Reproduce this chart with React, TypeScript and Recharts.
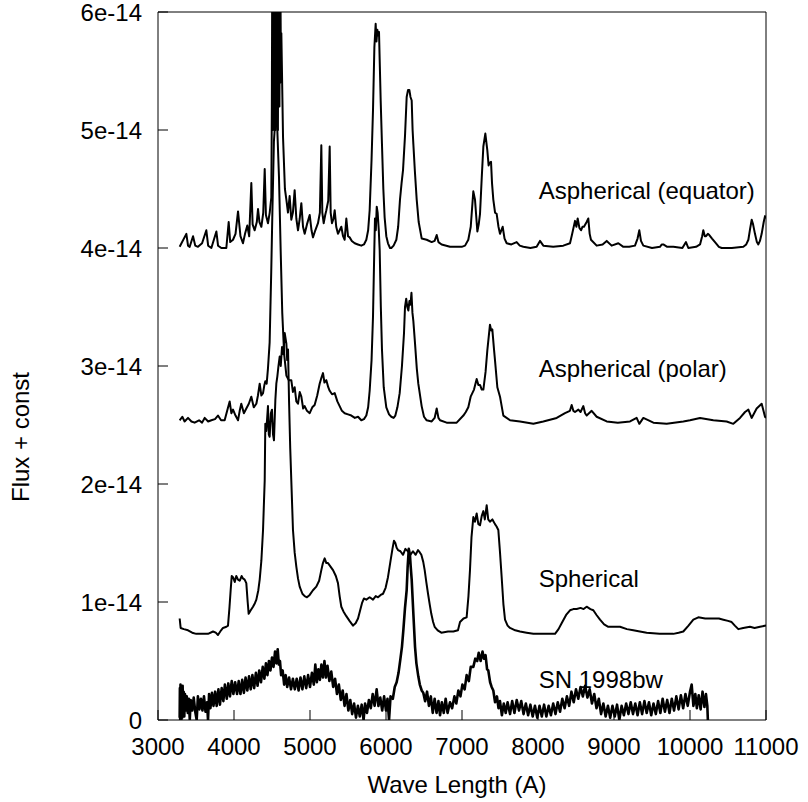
import { Line, LineChart, XAxis, YAxis } from "recharts";

// wavelength (A), flux in units of 1e-14
const equator: [number, number][] = [
  [3285, 4.01], [3373, 4.12], [3395, 4.02], [3417, 4.01], [3461, 4.1], [3490, 4.02], [3526, 4.01], [3580, 4.04],
  [3636, 4.15], [3660, 4.02], [3702, 4.0], [3768, 4.14], [3790, 4.02], [3833, 4.0], [3899, 4.0], [3930, 4.22],
  [3950, 4.05], [3987, 4.07], [4020, 4.12], [4053, 4.31], [4085, 4.1], [4118, 4.04], [4145, 4.12], [4175, 4.19],
  [4200, 4.1], [4228, 4.55], [4245, 4.2], [4272, 4.15], [4300, 4.22], [4316, 4.33], [4335, 4.22], [4360, 4.18],
  [4385, 4.3], [4404, 4.67], [4420, 4.28], [4447, 4.21], [4470, 4.3], [4491, 4.43], [4498, 5.2], [4503, 6.3],
  [4508, 5.0], [4513, 6.3], [4518, 5.1], [4523, 6.3], [4528, 5.0], [4533, 6.3], [4538, 5.2], [4543, 6.3],
  [4548, 5.0], [4553, 6.3], [4558, 5.1], [4563, 6.3], [4568, 5.2], [4573, 6.3], [4578, 5.0], [4583, 6.3],
  [4588, 5.3], [4593, 6.3], [4598, 5.2], [4603, 6.2], [4608, 5.4], [4613, 6.0], [4618, 5.5], [4623, 5.82],
  [4645, 4.94], [4670, 4.5], [4689, 4.41], [4710, 4.3],
  [4732, 4.44], [4754, 4.24], [4775, 4.3], [4798, 4.49], [4820, 4.25], [4842, 4.15], [4865, 4.25], [4886, 4.38],
  [4908, 4.18], [4930, 4.12], [4960, 4.2], [4996, 4.28], [5020, 4.15], [5039, 4.09], [5070, 4.15], [5105, 4.21],
  [5130, 4.3], [5149, 4.87], [5162, 4.3], [5180, 4.21], [5200, 4.28], [5215, 4.32], [5240, 4.4], [5259, 4.86],
  [5272, 4.3], [5289, 4.21], [5310, 4.25], [5325, 4.32], [5345, 4.18], [5368, 4.12], [5390, 4.15], [5412, 4.18],
  [5435, 4.1], [5456, 4.07], [5478, 4.25], [5500, 4.1], [5522, 4.09], [5550, 4.06], [5588, 4.04], [5630, 4.03],
  [5675, 4.02], [5710, 4.03], [5741, 4.07], [5765, 4.15], [5785, 4.32], [5810, 4.75], [5829, 5.17], [5847, 5.7],
  [5864, 5.9], [5875, 5.75], [5886, 5.85], [5900, 5.8], [5908, 5.83], [5917, 5.59], [5930, 5.25], [5947, 4.88],
  [5965, 4.5], [5982, 4.26], [6004, 4.1], [6026, 4.04], [6053, 4.0], [6070, 4.0], [6100, 4.02], [6136, 4.07],
  [6160, 4.18], [6184, 4.41], [6205, 4.55], [6224, 4.66], [6250, 4.95], [6272, 5.28], [6290, 5.34], [6307, 5.34],
  [6322, 5.28], [6338, 5.25], [6350, 5.0], [6360, 4.88], [6380, 4.65], [6404, 4.41], [6430, 4.22], [6470, 4.08],
  [6535, 4.07], [6601, 4.05], [6640, 4.06], [6667, 4.11], [6690, 4.05], [6732, 4.03], [6842, 4.01], [6950, 4.01],
  [6996, 4.01], [7040, 4.02], [7083, 4.07], [7115, 4.18], [7149, 4.48], [7171, 4.41], [7202, 4.14], [7220, 4.2],
  [7237, 4.29], [7260, 4.6], [7281, 4.86], [7307, 4.97], [7333, 4.83], [7350, 4.7], [7360, 4.72], [7382, 4.73],
  [7395, 4.55], [7412, 4.41], [7435, 4.3], [7456, 4.29], [7480, 4.18], [7500, 4.12], [7535, 4.18], [7560, 4.08],
  [7588, 4.04], [7650, 4.03], [7719, 4.05], [7760, 4.02], [7807, 4.01], [7900, 4.0], [7982, 4.01], [8026, 4.06],
  [8070, 4.02], [8200, 4.01], [8333, 4.02], [8421, 4.04], [8450, 4.12], [8487, 4.23], [8505, 4.18], [8522, 4.25],
  [8545, 4.17], [8566, 4.15], [8585, 4.18], [8605, 4.18], [8640, 4.22], [8662, 4.25], [8680, 4.12], [8697, 4.07],
  [8772, 4.02], [8850, 4.03], [8904, 4.06], [8969, 4.02], [9057, 4.04], [9123, 4.01], [9200, 4.01], [9276, 4.02],
  [9310, 4.08], [9333, 4.15], [9355, 4.06], [9386, 4.02], [9500, 4.0], [9605, 4.01], [9627, 4.03], [9649, 4.03],
  [9700, 4.01], [9781, 4.01], [9900, 4.0], [9947, 4.05], [9978, 4.0], [10080, 4.01], [10132, 4.03], [10160, 4.1],
  [10175, 4.15], [10195, 4.1], [10211, 4.1], [10235, 4.12], [10254, 4.11], [10290, 4.08], [10329, 4.05], [10380, 4.01],
  [10417, 4.0], [10550, 4.0], [10702, 4.01], [10740, 4.03], [10768, 4.07], [10790, 4.16], [10812, 4.24], [10830, 4.2],
  [10855, 4.12], [10880, 4.05], [10899, 4.03], [10920, 4.06], [10943, 4.12], [10970, 4.22], [10987, 4.27], [11000, 4.25],
];

const polar: [number, number][] = [
  [3285, 2.54], [3320, 2.57], [3350, 2.53], [3395, 2.56], [3440, 2.53], [3482, 2.52], [3540, 2.54], [3580, 2.52],
  [3614, 2.56], [3660, 2.53], [3702, 2.54], [3750, 2.55], [3789, 2.58], [3830, 2.54], [3877, 2.54], [3910, 2.62],
  [3943, 2.7], [3965, 2.6], [3987, 2.63], [4020, 2.58], [4053, 2.54], [4075, 2.62], [4096, 2.68], [4130, 2.6],
  [4162, 2.64], [4195, 2.68], [4228, 2.74], [4260, 2.65], [4294, 2.68], [4315, 2.75], [4338, 2.85], [4360, 2.75],
  [4382, 2.77], [4400, 2.84], [4412, 2.87], [4430, 2.85], [4447, 2.98], [4469, 3.2], [4490, 3.8], [4505, 4.3],
  [4525, 4.9], [4550, 5.15], [4570, 5.0], [4592, 4.6], [4614, 3.98], [4635, 3.45], [4660, 3.1], [4689, 2.92],
  [4720, 2.88], [4754, 2.88], [4775, 2.78], [4798, 2.82], [4820, 2.7], [4842, 2.68], [4865, 2.78], [4886, 2.74],
  [4910, 2.64], [4930, 2.66], [4960, 2.62], [4996, 2.6], [5030, 2.65], [5061, 2.67], [5095, 2.75], [5127, 2.85],
  [5150, 2.9], [5171, 2.94], [5190, 2.86], [5215, 2.88], [5240, 2.82], [5259, 2.79], [5290, 2.76], [5325, 2.77],
  [5360, 2.7], [5390, 2.66], [5420, 2.62], [5456, 2.6], [5500, 2.59], [5544, 2.58], [5590, 2.56], [5632, 2.57],
  [5675, 2.54], [5710, 2.55], [5741, 2.58], [5765, 2.65], [5785, 2.79], [5810, 3.05], [5829, 3.42], [5845, 3.95],
  [5855, 4.25], [5866, 4.15], [5878, 4.35], [5890, 4.3], [5905, 4.15], [5917, 3.98], [5932, 3.5], [5947, 3.14],
  [5970, 2.82], [6004, 2.65], [6040, 2.59], [6070, 2.57], [6100, 2.56], [6123, 2.58], [6150, 2.65], [6180, 2.77],
  [6210, 3.0], [6237, 3.28], [6250, 3.5], [6266, 3.57], [6280, 3.5], [6294, 3.47], [6308, 3.55], [6322, 3.52],
  [6335, 3.62], [6348, 3.45], [6360, 3.38], [6382, 3.19], [6405, 2.98], [6425, 2.85], [6469, 2.66], [6500, 2.57],
  [6535, 2.54], [6601, 2.53], [6640, 2.56],
  [6667, 2.64], [6690, 2.56], [6711, 2.54], [6798, 2.52], [6930, 2.52], [7018, 2.58], [7050, 2.61], [7083, 2.65],
  [7114, 2.74], [7158, 2.8], [7193, 2.89], [7215, 2.84], [7237, 2.84], [7260, 2.8], [7281, 2.8], [7310, 2.95],
  [7333, 3.13], [7368, 3.35], [7385, 3.3], [7399, 3.31], [7420, 3.15], [7434, 3.05], [7465, 2.82], [7500, 2.74],
  [7544, 2.58], [7632, 2.54], [7763, 2.53], [7939, 2.51], [8070, 2.53], [8246, 2.56], [8355, 2.6], [8420, 2.62],
  [8443, 2.67], [8465, 2.62], [8487, 2.61], [8531, 2.63], [8560, 2.61], [8596, 2.66], [8620, 2.6], [8640, 2.58],
  [8706, 2.62], [8772, 2.57], [8904, 2.53], [9050, 2.52], [9211, 2.53], [9298, 2.56], [9333, 2.51], [9386, 2.56],
  [9518, 2.52], [9693, 2.51], [9912, 2.53], [10000, 2.54], [10132, 2.56], [10307, 2.54], [10482, 2.53], [10570, 2.51],
  [10658, 2.56], [10724, 2.61], [10768, 2.63], [10811, 2.56], [10877, 2.64], [10943, 2.68], [10987, 2.57], [11000, 2.56],
];

const spherical: [number, number][] = [
  [3285, 0.86], [3298, 0.78], [3340, 0.77], [3395, 0.76], [3450, 0.74], [3504, 0.73], [3580, 0.73], [3658, 0.73],
  [3724, 0.75], [3760, 0.74], [3789, 0.72], [3830, 0.76], [3855, 0.78], [3900, 0.79], [3921, 0.8], [3940, 0.95],
  [3956, 1.1], [3970, 1.22], [3987, 1.21], [4010, 1.17], [4030, 1.22], [4053, 1.19], [4075, 1.18], [4100, 1.22],
  [4118, 1.2], [4140, 1.19], [4162, 1.16], [4180, 1.0], [4193, 0.9], [4220, 0.93], [4250, 0.96], [4275, 0.99],
  [4294, 1.02], [4320, 1.1], [4338, 1.19], [4360, 1.35], [4382, 1.61], [4395, 1.86], [4404, 2.03], [4412, 2.51],
  [4425, 2.45], [4447, 2.66], [4458, 2.42], [4469, 2.4], [4485, 2.6], [4500, 2.63], [4513, 2.42], [4526, 2.37],
  [4544, 2.71], [4557, 2.85], [4570, 2.91], [4585, 3.0], [4601, 3.08], [4615, 3.0], [4632, 3.16], [4650, 3.1],
  [4667, 3.28], [4689, 3.19], [4700, 3.05], [4711, 3.14], [4724, 2.71], [4740, 2.3], [4754, 2.03], [4776, 1.61],
  [4798, 1.42], [4820, 1.3], [4842, 1.2], [4864, 1.13], [4900, 1.07], [4930, 1.05], [4960, 1.04], [4996, 1.06],
  [5039, 1.1], [5083, 1.13], [5120, 1.18], [5149, 1.27], [5170, 1.33], [5193, 1.37], [5215, 1.33], [5237, 1.33],
  [5270, 1.3], [5303, 1.27], [5340, 1.22], [5368, 1.16], [5390, 1.05], [5412, 0.96], [5440, 0.92], [5478, 0.88],
  [5520, 0.84], [5566, 0.8], [5600, 0.82], [5632, 0.86], [5660, 0.93], [5684, 0.99], [5710, 1.03], [5741, 1.02],
  [5785, 1.04], [5829, 1.02], [5865, 1.05], [5895, 1.04], [5930, 1.06], [5961, 1.07], [5995, 1.12], [6026, 1.21],
  [6060, 1.35], [6085, 1.45], [6105, 1.52], [6123, 1.5], [6140, 1.46], [6158, 1.44], [6190, 1.43], [6224, 1.4],
  [6255, 1.45], [6289, 1.43], [6320, 1.4], [6355, 1.43], [6390, 1.4], [6421, 1.44], [6445, 1.42], [6465, 1.4],
  [6490, 1.34], [6509, 1.27], [6530, 1.17], [6553, 1.07], [6575, 0.98], [6596, 0.9], [6620, 0.83], [6640, 0.79],
  [6680, 0.76], [6728, 0.74], [6816, 0.75], [6886, 0.75], [6947, 0.76], [6974, 0.83], [7020, 0.86], [7061, 0.87],
  [7085, 1.05], [7105, 1.27], [7125, 1.55], [7149, 1.72], [7170, 1.68], [7193, 1.75], [7215, 1.66], [7237, 1.65],
  [7260, 1.73], [7281, 1.77], [7300, 1.7], [7325, 1.82], [7345, 1.7], [7368, 1.68], [7400, 1.7], [7434, 1.66],
  [7455, 1.64], [7478, 1.61], [7500, 1.42], [7522, 1.21], [7545, 0.98], [7566, 0.85], [7600, 0.8], [7632, 0.78],
  [7700, 0.76], [7763, 0.75], [7850, 0.74], [7939, 0.73], [8080, 0.73], [8224, 0.73], [8270, 0.77], [8311, 0.82],
  [8370, 0.89], [8421, 0.93], [8465, 0.94], [8509, 0.94], [8560, 0.95], [8600, 0.94], [8640, 0.96], [8690, 0.94],
  [8728, 0.93], [8770, 0.89], [8816, 0.85], [8870, 0.81], [8925, 0.79], [9000, 0.79], [9079, 0.79], [9170, 0.77],
  [9254, 0.76], [9340, 0.75], [9430, 0.74], [9600, 0.73], [9781, 0.73], [9850, 0.74], [9912, 0.75], [9980, 0.8],
  [10044, 0.85], [10110, 0.87], [10200, 0.86], [10307, 0.86], [10380, 0.86], [10439, 0.85], [10500, 0.84], [10548, 0.83],
  [10590, 0.8], [10636, 0.77], [10700, 0.78], [10789, 0.79], [10850, 0.78], [10921, 0.79], [11000, 0.8],
];

const sn1998bw: [number, number][] = [
  [3285, 0.02], [3288, 0.27], [3292, 0.0], [3296, 0.3], [3300, 0.05], [3304, 0.28], [3308, 0.0], [3313, 0.26],
  [3318, 0.02], [3324, 0.29], [3330, 0.06], [3338, 0.24], [3346, 0.03], [3355, 0.22], [3365, 0.08], [3378, 0.2],
  [3392, 0.06], [3405, 0.18], [3418, 0.0], [3430, 0.17], [3450, 0.08], [3470, 0.19], [3490, 0.07], [3509, 0.0],
  [3525, 0.2], [3545, 0.09], [3565, 0.18], [3585, 0.08], [3605, 0.2], [3625, 0.07], [3645, 0.15], [3658, 0.0],
  [3672, 0.22], [3690, 0.1], [3710, 0.23], [3730, 0.12], [3752, 0.24], [3772, 0.12], [3795, 0.26], [3815, 0.13],
  [3838, 0.27], [3860, 0.16], [3880, 0.3], [3905, 0.18], [3925, 0.31], [3947, 0.2], [3970, 0.33], [3992, 0.22],
  [4015, 0.32], [4040, 0.22], [4062, 0.33], [4085, 0.22], [4108, 0.34], [4130, 0.23], [4152, 0.36], [4175, 0.25],
  [4198, 0.37], [4220, 0.26], [4242, 0.38], [4265, 0.27], [4288, 0.4], [4310, 0.29], [4332, 0.42], [4355, 0.32],
  [4378, 0.45], [4400, 0.35], [4420, 0.48], [4440, 0.38], [4460, 0.5], [4480, 0.42], [4500, 0.53], [4520, 0.45],
  [4540, 0.58], [4558, 0.48], [4575, 0.6], [4590, 0.47], [4605, 0.5], [4620, 0.38], [4640, 0.42], [4660, 0.3],
  [4680, 0.38], [4700, 0.28], [4725, 0.36], [4750, 0.26], [4775, 0.35], [4800, 0.26], [4825, 0.35], [4850, 0.25],
  [4875, 0.36], [4900, 0.26], [4925, 0.37], [4950, 0.27], [4975, 0.38], [5000, 0.28], [5025, 0.4], [5050, 0.3],
  [5070, 0.47], [5090, 0.32], [5110, 0.43], [5130, 0.34], [5150, 0.47], [5170, 0.36], [5190, 0.5], [5210, 0.36],
  [5230, 0.46], [5255, 0.33], [5280, 0.41], [5305, 0.28], [5330, 0.35], [5355, 0.22], [5380, 0.3], [5405, 0.17],
  [5430, 0.25], [5455, 0.12], [5480, 0.22], [5505, 0.08], [5530, 0.17], [5555, 0.05], [5580, 0.14], [5605, 0.02],
  [5630, 0.12], [5655, 0.03], [5680, 0.13], [5705, 0.0], [5725, 0.14], [5750, 0.06], [5775, 0.17], [5800, 0.1],
  [5825, 0.22], [5850, 0.12], [5877, 0.26], [5900, 0.12], [5925, 0.19], [5950, 0.08], [5975, 0.2], [6000, 0.08],
  [6020, 0.18], [6040, 0.0], [6060, 0.2], [6090, 0.18], [6115, 0.28], [6140, 0.32], [6165, 0.4], [6190, 0.52],
  [6210, 0.62], [6228, 0.76], [6250, 0.95], [6272, 1.1], [6285, 1.3], [6300, 1.45], [6315, 1.4], [6325, 1.3],
  [6338, 1.19], [6360, 0.9], [6382, 0.62], [6400, 0.48], [6425, 0.37], [6445, 0.3], [6470, 0.25], [6491, 0.23],
  [6515, 0.16], [6540, 0.24], [6565, 0.12], [6590, 0.2], [6615, 0.06], [6640, 0.18], [6665, 0.06], [6690, 0.16],
  [6711, 0.04], [6735, 0.15], [6760, 0.06], [6785, 0.18], [6810, 0.06], [6842, 0.15], [6870, 0.1], [6900, 0.2],
  [6925, 0.14], [6952, 0.25], [6980, 0.2], [7005, 0.3], [7035, 0.26], [7061, 0.38], [7090, 0.33], [7115, 0.45],
  [7149, 0.45], [7175, 0.52], [7200, 0.5], [7220, 0.57], [7245, 0.5], [7270, 0.58], [7289, 0.52], [7310, 0.55],
  [7330, 0.43], [7346, 0.42], [7370, 0.32], [7390, 0.28], [7412, 0.25], [7435, 0.15], [7460, 0.2], [7480, 0.1],
  [7500, 0.16], [7525, 0.04], [7550, 0.14], [7575, 0.06], [7600, 0.15], [7632, 0.05], [7660, 0.16], [7690, 0.06],
  [7720, 0.17], [7750, 0.08], [7780, 0.16], [7810, 0.05], [7840, 0.14], [7870, 0.04], [7900, 0.13], [7930, 0.03],
  [7960, 0.12], [7990, 0.02], [8020, 0.12], [8050, 0.03], [8080, 0.13], [8110, 0.03], [8140, 0.12], [8170, 0.04],
  [8200, 0.14], [8230, 0.05], [8260, 0.15], [8290, 0.07], [8320, 0.18], [8350, 0.1], [8380, 0.2], [8410, 0.12],
  [8440, 0.24], [8470, 0.15], [8500, 0.26], [8530, 0.18], [8560, 0.28], [8590, 0.2], [8620, 0.29], [8650, 0.19],
  [8680, 0.26], [8710, 0.14], [8740, 0.22], [8770, 0.1], [8800, 0.18], [8830, 0.05], [8860, 0.14], [8890, 0.03],
  [8920, 0.12], [8950, 0.02], [8980, 0.12], [9010, 0.03], [9040, 0.13], [9070, 0.0], [9100, 0.12], [9130, 0.04],
  [9160, 0.14], [9190, 0.05], [9220, 0.15], [9250, 0.05], [9280, 0.14], [9310, 0.04], [9340, 0.15], [9370, 0.05],
  [9400, 0.16], [9430, 0.06], [9460, 0.15], [9490, 0.04], [9520, 0.14], [9550, 0.05], [9580, 0.16], [9610, 0.06],
  [9640, 0.18], [9670, 0.07], [9700, 0.17], [9730, 0.06], [9760, 0.18], [9790, 0.08], [9820, 0.2], [9850, 0.09],
  [9880, 0.21], [9910, 0.1], [9940, 0.22], [9970, 0.12], [10000, 0.24], [10022, 0.3], [10045, 0.12], [10070, 0.22],
  [10090, 0.1], [10115, 0.21], [10140, 0.09], [10165, 0.24], [10190, 0.11], [10210, 0.22], [10228, 0.12], [10235, 0.0],
];

const xTicks = [3000, 4000, 5000, 6000, 7000, 8000, 9000, 10000, 11000];
const yTicks = [0, 1, 2, 3, 4, 5, 6];

const curveLabels = [
  { text: "Aspherical (equator)", w: 8010, f: 4.415 },
  { text: "Aspherical (polar)", w: 8010, f: 2.907 },
  { text: "Spherical", w: 8010, f: 1.127 },
  { text: "SN 1998bw", w: 8010, f: 0.271 },
];

const series = [
  { name: "equator", pts: equator, width: 2 },
  { name: "polar", pts: polar, width: 2 },
  { name: "spherical", pts: spherical, width: 2 },
  { name: "sn1998bw", pts: sn1998bw, width: 2.6 },
];

const FONT = "'Liberation Sans', Arial, Helvetica, sans-serif";
const W = 808;
const H = 802;
// plot box
const LEFT = 158;
const RIGHT = 42;
const TOP = 12;
const BOTTOM = 82;
const plotW = W - LEFT - RIGHT;
const plotH = H - TOP - BOTTOM;
const px = (w: number) => LEFT + ((w - 3000) / 8000) * plotW;
const py = (f: number) => TOP + plotH - (f / 6) * plotH;

const toPts = (arr: [number, number][]) => arr.map(([w, f]) => ({ w, f }));

const fmtY = (v: number) => (v === 0 ? "0" : `${v}e-14`);
const tickStyle = { fill: "#000", fontSize: 24, fontFamily: FONT };

export default function App() {
  return (
    <div style={{ position: "absolute", left: 0, top: 0, width: W, height: H, background: "#fff" }}>
      <LineChart width={W} height={H} margin={{ top: 0, right: 0, bottom: 0, left: 0 }}>
        <XAxis
          xAxisId="main"
          type="number"
          dataKey="w"
          domain={[3000, 11000]}
          ticks={xTicks}
          interval={0}
          allowDataOverflow
          height={BOTTOM}
          stroke="#000"
          tickSize={-10}
          tickMargin={28}
          tick={tickStyle}
        />
        <XAxis
          xAxisId="top"
          orientation="top"
          type="number"
          dataKey="w"
          domain={[3000, 11000]}
          ticks={xTicks}
          interval={0}
          height={TOP}
          stroke="#000"
          tickSize={-10}
          tickFormatter={() => ""}
        />
        <YAxis
          yAxisId="main"
          type="number"
          domain={[0, 6]}
          ticks={yTicks}
          interval={0}
          allowDataOverflow
          width={LEFT}
          stroke="#000"
          tickSize={-10}
          tickMargin={26}
          tick={tickStyle}
          tickFormatter={fmtY}
        />
        <YAxis
          yAxisId="right"
          orientation="right"
          type="number"
          domain={[0, 6]}
          ticks={yTicks}
          interval={0}
          width={RIGHT}
          stroke="#000"
          tickSize={-10}
          tickFormatter={() => ""}
        />
        {series.map((s) => (
          <Line
            key={s.name}
            xAxisId="main"
            yAxisId="main"
            data={toPts(s.pts)}
            dataKey="f"
            type="linear"
            stroke="#000"
            strokeWidth={s.width}
            strokeLinejoin="round"
            dot={false}
            isAnimationActive={false}
          />
        ))}
        {curveLabels.map((l) => (
          <text key={l.text} x={px(l.w)} y={py(l.f)} fontSize={24} fontFamily={FONT} fill="#000">
            {l.text}
          </text>
        ))}
        <text x={457} y={793} textAnchor="middle" fontSize={24} fontFamily={FONT} fill="#000">
          Wave Length (A)
        </text>
        <text
          x={20}
          y={437}
          transform="rotate(-90, 20, 437)"
          textAnchor="middle"
          dominantBaseline="central"
          fontSize={24}
          fontFamily={FONT}
          fill="#000"
        >
          Flux + const
        </text>
      </LineChart>
    </div>
  );
}
